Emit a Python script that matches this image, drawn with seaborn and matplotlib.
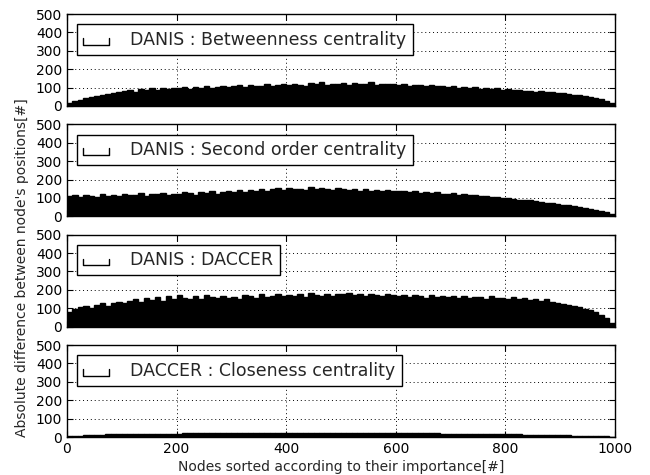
import numpy as np
import pandas as pd
import matplotlib
matplotlib.use("Agg")
import matplotlib.pyplot as plt
import seaborn as sns
from matplotlib.legend_handler import HandlerBase
from matplotlib.lines import Line2D

# ---------------- data (one value per block of 10 nodes) ----------------
panel_labels = [
    "DANIS : Betweenness centrality",
    "DANIS : Second order centrality",
    "DANIS : DACCER",
    "DACCER : Closeness centrality",
]

betweenness = [
    15, 25, 33, 42, 48, 55, 60, 66, 72, 76,
    80, 85, 78, 90, 88, 95, 86, 98, 92, 100,
    96, 102, 94, 105, 99, 108, 100, 104, 110, 101,
    106, 112, 103, 115, 108, 111, 118, 106, 114, 120,
    112, 122, 116, 108, 125, 118, 130, 115, 121, 117,
    124, 113, 126, 119, 122, 128, 114, 120, 117, 121,
    115, 119, 110, 116, 112, 108, 114, 106, 110, 104,
    107, 100, 104, 97, 101, 94, 98, 92, 95, 89,
    91, 86, 88, 82, 84, 78, 80, 74, 76, 70,
    68, 64, 60, 57, 52, 48, 42, 36, 28, 18,
]

second_order = [
    108, 115, 104, 118, 110, 106, 120, 112, 117, 109,
    121, 114, 118, 125, 112, 122, 119, 128, 116, 124,
    120, 130, 125, 118, 133, 127, 136, 124, 131, 138,
    134, 142, 130, 145, 139, 150, 137, 148, 152, 141,
    155, 146, 151, 143, 158, 147, 153, 149, 144, 152,
    148, 142, 150, 139, 146, 140, 144, 136, 142, 138,
    135, 140, 132, 137, 128, 133, 126, 130, 124, 121,
    125, 118, 120, 114, 116, 109, 112, 104, 106, 100,
    97, 94, 91, 88, 86, 82, 79, 75, 72, 68,
    64, 60, 56, 52, 47, 42, 36, 30, 22, 12,
]

daccer = [
    80, 96, 105, 112, 100, 118, 126, 114, 130, 135,
    128, 140, 150, 136, 155, 146, 160, 142, 165, 150,
    170, 158, 152, 166, 148, 172, 160, 155, 168, 158,
    162, 150, 170, 165, 158, 175, 162, 168, 180, 165,
    172, 168, 178, 160, 182, 170, 165, 176, 168, 180,
    175, 185, 170, 178, 165, 180, 172, 168, 176, 170,
    166, 174, 160, 170, 164, 158, 172, 162, 168, 160,
    165, 158, 168, 155, 162, 160, 152, 164, 156, 158,
    150, 160, 148, 155, 145, 152, 140, 148, 135, 130,
    125, 118, 112, 105, 98, 88, 80, 65, 48, 20,
]

closeness = [
    3, 5, 7, 9, 10, 12, 13, 14, 14, 15,
    15, 16, 16, 17, 17, 18, 18, 18, 19, 19,
    19, 20, 20, 20, 21, 21, 21, 21, 22, 22,
    22, 22, 22, 23, 23, 23, 23, 23, 23, 24,
    24, 24, 24, 24, 24, 24, 24, 24, 24, 24,
    24, 24, 23, 23, 23, 23, 23, 23, 22, 22,
    22, 22, 21, 21, 21, 20, 20, 20, 19, 19,
    19, 18, 18, 18, 17, 17, 16, 16, 16, 15,
    15, 14, 14, 13, 13, 12, 12, 11, 10, 10,
    9, 9, 8, 7, 7, 6, 5, 4, 3, 2,
]

series = [betweenness, second_order, daccer, closeness]
node_blocks = np.arange(5, 1000, 10)  # block centres on the node axis

x_ticks = [0, 200, 400, 600, 800, 1000]
y_ticks = [0, 100, 200, 300, 400, 500]
x_label = "Nodes sorted according to their importance[#]"
y_label = "Absolute difference between node's positions[#]"

# ---------------- style ----------------
sns.set_style("ticks")
plt.rcParams.update({
    "font.family": ["DejaVu Sans"],
    "xtick.direction": "in",
    "ytick.direction": "in",
    "xtick.top": True,
    "ytick.right": True,
    "xtick.major.size": 4,
    "ytick.major.size": 4,
    "xtick.major.width": 0.8,
    "ytick.major.width": 0.8,
    "xtick.color": "black",
    "ytick.color": "black",
    "axes.edgecolor": "black",
    "axes.linewidth": 1.0,
    "xtick.labelsize": 10,
    "ytick.labelsize": 10,
})


class BracketHandler(HandlerBase):
    def create_artists(self, legend, orig_handle, xdescent, ydescent,
                       width, height, fontsize, trans):
        x0, y0 = -xdescent, -ydescent
        xs = [x0, x0, x0 + width, x0 + width]
        ys = [y0 + height * 0.55, y0, y0, y0 + height * 0.55]
        return [Line2D(xs, ys, color="black", lw=1.0, transform=trans)]


fig, axes = plt.subplots(4, 1, figsize=(6.5, 4.75), dpi=100, sharex=True)
fig.subplots_adjust(left=0.103, right=0.946, top=0.9705, bottom=0.08, hspace=0.2)

for ax, vals, lab in zip(axes, series, panel_labels):
    df = pd.DataFrame({"node": node_blocks, "diff": vals})
    sns.barplot(data=df, x="node", y="diff", native_scale=True, width=1.0,
                color="black", saturation=1, edgecolor="black", linewidth=1.0,
                errorbar=None, ax=ax)
    ax.set_xlim(0, 1000)
    ax.set_ylim(0, 500)
    ax.set_xticks(x_ticks)
    ax.set_yticks(y_ticks)
    ax.set_xlabel("")
    ax.set_ylabel("")
    ax.grid(True, color="black", linestyle=(0, (1, 3)), linewidth=0.7)
    ax.set_axisbelow(True)
    for s in ax.spines.values():
        s.set_visible(True)
        s.set_zorder(5)
    proxy = Line2D([], [])
    leg = ax.legend([proxy], [lab], handler_map={proxy: BracketHandler()},
                    loc="upper left", fontsize=12.5, frameon=True, fancybox=False,
                    framealpha=1, edgecolor="black", handlelength=1.5,
                    handletextpad=1.2, borderaxespad=0.6, borderpad=0.35)
    leg.get_frame().set_linewidth(1.0)
    leg.set_zorder(10)

axes[-1].set_xlabel(x_label, fontsize=10, labelpad=3)
fig.text(0.034, 0.436, y_label, rotation=90, ha="center", va="center", fontsize=10)

fig.savefig("out.png", dpi=100)
